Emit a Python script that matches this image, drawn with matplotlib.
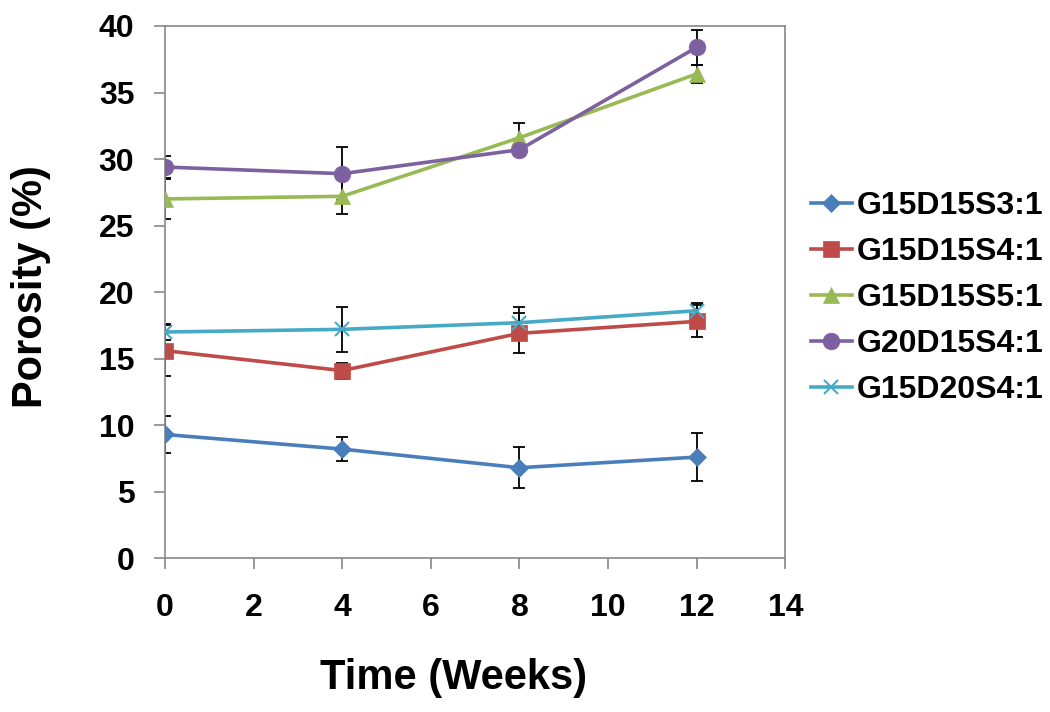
import matplotlib
matplotlib.use("Agg")
import matplotlib.pyplot as plt

plt.rcParams['font.family'] = ['Liberation Sans', 'DejaVu Sans']
plt.rcParams['font.weight'] = 'bold'

weeks = [0, 4, 8, 12]
labels = ["G15D15S3:1", "G15D15S4:1", "G15D15S5:1", "G20D15S4:1", "G15D20S4:1"]
porosity = [
    [9.3, 8.2, 6.8, 7.6],
    [15.6, 14.1, 16.9, 17.8],
    [27.0, 27.2, 31.6, 36.4],
    [29.4, 28.9, 30.7, 38.4],
    [17.0, 17.2, 17.7, 18.6],
]
errors = [
    [1.4, 0.9, 1.55, 1.8],
    [1.9, 0.6, 1.5, 1.2],
    [1.5, 1.3, 1.1, 0.7],
    [0.8, 2.0, 0.4, 1.3],
    [0.6, 1.7, 1.2, 0.6],
]
colors = ["#4a7ebb", "#be4b48", "#98b954", "#7d60a0", "#46aac5"]
markers = ["D", "s", "^", "o", "x"]
msizes = [9, 11, 11, 12, 10]

fig = plt.figure(figsize=(10.5, 7.12), dpi=100)
ax = fig.add_axes([0.157, 0.216, 0.591, 0.7475])

for i in range(5):
    ax.errorbar(weeks, porosity[i], yerr=errors[i], fmt='none', ecolor='black',
                elinewidth=1.3, capsize=4, capthick=1.3, zorder=2)
for i in range(5):
    ax.plot(weeks, porosity[i], color=colors[i], marker=markers[i], markersize=msizes[i],
            linewidth=2.6, markeredgewidth=1.5 if markers[i] == "x" else 0.5,
            markeredgecolor=colors[i], label=labels[i], zorder=3)

ax.set_xlim(0, 14)
ax.set_ylim(0, 40)
ax.set_xticks(range(0, 15, 2))
ax.set_yticks(range(0, 41, 5))
for s in ax.spines.values():
    s.set_color('#888888')
    s.set_linewidth(1.2)
ax.tick_params(axis='both', colors='#888888', labelcolor='black', labelsize=23,
               length=8, width=1.2, direction='out')
ax.tick_params(axis='x', pad=17)
ax.tick_params(axis='y', pad=14)

# axis titles placed like the original
fig.text(0.432, 0.048, "Time (Weeks)", ha='center', va='center', fontsize=30, fontweight='bold')
fig.text(0.03, 1 - 287 / 712, "Porosity (%)", ha='center', va='center', rotation='vertical',
         fontsize=30, fontweight='bold')

ax.legend(loc='center left', bbox_to_anchor=(1.02, 0.489), frameon=False,
          fontsize=23, handlelength=1.3, handletextpad=0.15, labelspacing=0.5,
          borderaxespad=0)

fig.savefig("out.png", dpi=100)
